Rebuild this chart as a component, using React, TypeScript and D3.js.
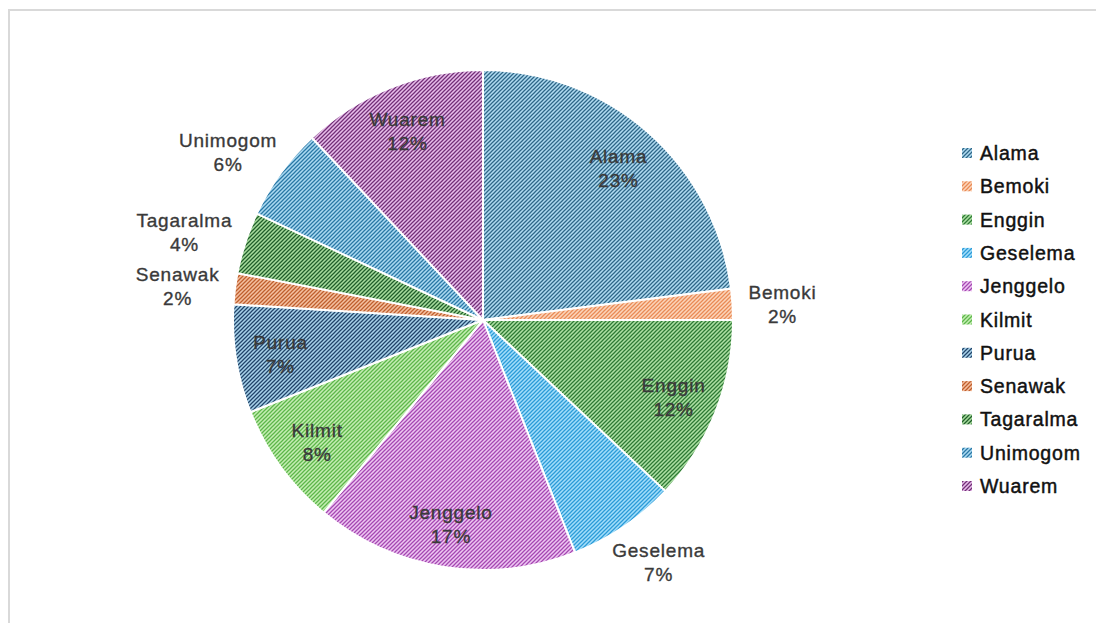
import React from "react";
import * as d3 from "d3";

const categories = ["Alama", "Bemoki", "Enggin", "Geselema", "Jenggelo", "Kilmit", "Purua", "Senawak", "Tagaralma", "Unimogom", "Wuarem"];
const values = [23, 2, 12, 7, 17, 8, 7, 2, 4, 6, 12];
const outsideLabels = ["Bemoki", "Geselema", "Senawak", "Tagaralma", "Unimogom"];
const bgColors = ["#b0dbf1", "#fcd5ba", "#ade0a3", "#a3defa", "#eec6f2", "#c4eeb2", "#a8d2ea", "#f5c0a0", "#a7dc9d", "#abdaf2", "#e7bdea"];
const fgColors = ["#2f6788", "#e98a55", "#2e7a35", "#2b9bd8", "#a548b2", "#5db64a", "#22456a", "#bf5f2e", "#215f2b", "#2a78a6", "#733078"];

const W = 1096;
const H = 623;
const cx = 483;
const cy = 320;
const R = 250;
const FONT = "'Liberation Sans', Arial, sans-serif";
const FS = 19;

function measure(text: string): number {
  if (typeof document === "undefined") return text.length * 10;
  const c = document.createElement("canvas");
  const ctx = c.getContext("2d");
  if (!ctx) return text.length * 10;
  ctx.font = `${FS}px ${FONT}`;
  return ctx.measureText(text).width + text.length * 0.8;
}

export default function App() {
  const pie = d3.pie<number>().sort(null).value((d) => d)(values);
  const total = d3.sum(values);
  const arc = d3.arc<d3.PieArcDatum<number>>().innerRadius(0).outerRadius(R);

  return (
    <svg width={W} height={H} style={{ position: "absolute", left: 0, top: 0, background: "#fff" }}>
      <defs>
        {categories.map((c, i) => (
          <pattern key={c} id={`hatch${i}`} patternUnits="userSpaceOnUse" width={4} height={4}>
            <rect width={4} height={4} fill={bgColors[i]} />
            <path d="M-1,1 l2,-2 M0,4 l4,-4 M3,5 l2,-2" stroke={fgColors[i]} strokeWidth={1.25} />
          </pattern>
        ))}
      </defs>
      <rect x={9} y={10} width={1200} height={800} fill="none" stroke="#d9d9d9" strokeWidth={2} />
      <g transform={`translate(${cx},${cy})`}>
        {pie.map((p, i) => (
          <path key={categories[i]} d={arc(p) || ""} fill={`url(#hatch${i})`} stroke="#fff" strokeWidth={2} />
        ))}
        {pie.map((p, i) => {
          const name = categories[i];
          const pct = `${Math.round((values[i] / total) * 100)}%`;
          const mid = (p.startAngle + p.endAngle) / 2;
          const s = Math.sin(mid);
          const c = -Math.cos(mid);
          let x: number, y: number;
          if (outsideLabels.includes(name)) {
            const w = Math.max(measure(name), measure(pct));
            const r0 = R + 16;
            x = r0 * s + (w / 2) * s;
            y = r0 * c + 24 * c;
          } else {
            const r0 = R * 0.82;
            x = r0 * s;
            y = r0 * c;
          }
          return (
            <text key={"l" + name} x={x} y={y} textAnchor="middle" fontFamily={FONT} fontSize={FS} fill="#3a3a3a" stroke="#3a3a3a" strokeWidth={0.35} letterSpacing={0.8}>
              <tspan x={x} dy={-3}>{name}</tspan>
              <tspan x={x} dy={24}>{pct}</tspan>
            </text>
          );
        })}
      </g>
      <g>
        {categories.map((c, i) => {
          const y = 153 + i * 33.3;
          return (
            <g key={"lg" + c}>
              <rect x={962} y={y - 5} width={10} height={10} fill={`url(#hatch${i})`} />
              <text x={980} y={y + 7} fontFamily={FONT} fontSize={19.5} fill="#111" stroke="#111" strokeWidth={0.45} letterSpacing={0.8}>{c}</text>
            </g>
          );
        })}
      </g>
    </svg>
  );
}
